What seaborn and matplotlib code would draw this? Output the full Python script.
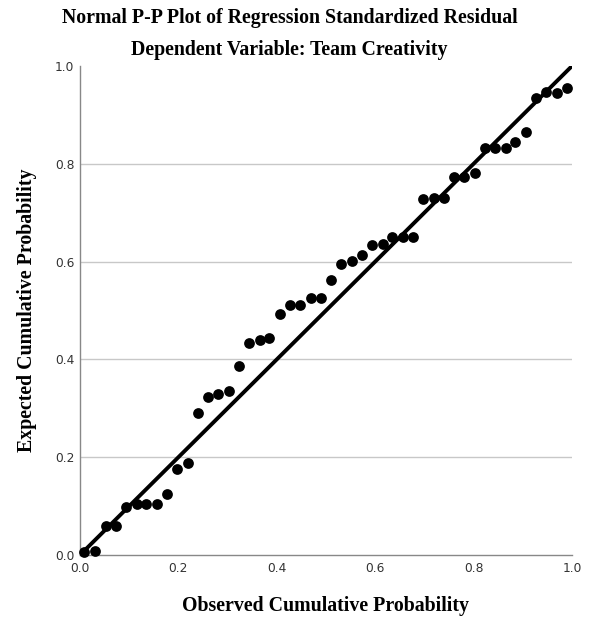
import matplotlib
matplotlib.use("Agg")
import matplotlib.pyplot as plt
import seaborn as sns
import pandas as pd

observed = [0.008, 0.031, 0.052, 0.073, 0.094, 0.115, 0.135, 0.156, 0.177, 0.198,
            0.219, 0.240, 0.260, 0.281, 0.302, 0.323, 0.344, 0.365, 0.385, 0.406,
            0.427, 0.448, 0.469, 0.490, 0.510, 0.531, 0.552, 0.573, 0.594, 0.615,
            0.635, 0.656, 0.677, 0.698, 0.719, 0.740, 0.760, 0.781, 0.802, 0.823,
            0.844, 0.865, 0.885, 0.906, 0.927, 0.948, 0.969, 0.990]
expected = [0.007, 0.009, 0.060, 0.060, 0.099, 0.105, 0.105, 0.105, 0.124, 0.176,
            0.188, 0.290, 0.323, 0.330, 0.335, 0.386, 0.433, 0.439, 0.444, 0.492,
            0.512, 0.512, 0.526, 0.526, 0.563, 0.595, 0.602, 0.614, 0.634, 0.637,
            0.650, 0.650, 0.651, 0.729, 0.731, 0.731, 0.772, 0.772, 0.782, 0.832,
            0.832, 0.833, 0.845, 0.865, 0.935, 0.946, 0.944, 0.954]
ref_line = [0.0, 1.0]
ticks = [0.0, 0.2, 0.4, 0.6, 0.8, 1.0]

df = pd.DataFrame({"obs": observed, "exp": expected})
line_df = pd.DataFrame({"x": ref_line, "y": ref_line})

sns.set_style("white")
fig = plt.figure(figsize=(5.89, 6.24), dpi=100)
ax = fig.add_axes([80/589, 1-555/624, 492/589, 489/624])

for t in ticks[1:-1]:
    ax.axhline(t, color="#c8c8c8", lw=1.0, zorder=0)

sns.lineplot(data=line_df, x="x", y="y", color="black", lw=2.8, ax=ax, zorder=2)
sns.scatterplot(data=df, x="obs", y="exp", color="black", s=60, edgecolor="black",
                linewidth=0, ax=ax, zorder=3, clip_on=False)

ax.set_xlim(0, 1)
ax.set_ylim(0, 1)
ax.set_xticks(ticks)
ax.set_yticks(ticks)
ax.set_xticklabels([f"{t:.1f}" for t in ticks], fontsize=8.8, color="#333333",
                   family="DejaVu Sans")
ax.set_yticklabels([f"{t:.1f}" for t in ticks], fontsize=8.8, color="#333333",
                   family="DejaVu Sans")
ax.tick_params(axis="x", length=0, pad=5)
ax.tick_params(axis="y", length=0, pad=4)
for s in ["top", "right"]:
    ax.spines[s].set_visible(False)
for s in ["left", "bottom"]:
    ax.spines[s].set_color("#888888")
    ax.spines[s].set_linewidth(1.0)

lab_kw = dict(fontsize=14.3, fontweight="bold", family="Liberation Serif", color="black")
ax.set_xlabel("Observed Cumulative Probability", labelpad=15, **lab_kw)
ax.set_ylabel("Expected Cumulative Probability", labelpad=13, **lab_kw)

fig.text(290/589, 1-18/624, "Normal P-P Plot of Regression Standardized Residual",
         ha="center", va="center", **lab_kw)
fig.text(289/589, 1-50/624, "Dependent Variable: Team Creativity",
         ha="center", va="center", **lab_kw)

fig.savefig("out.png", dpi=100)
